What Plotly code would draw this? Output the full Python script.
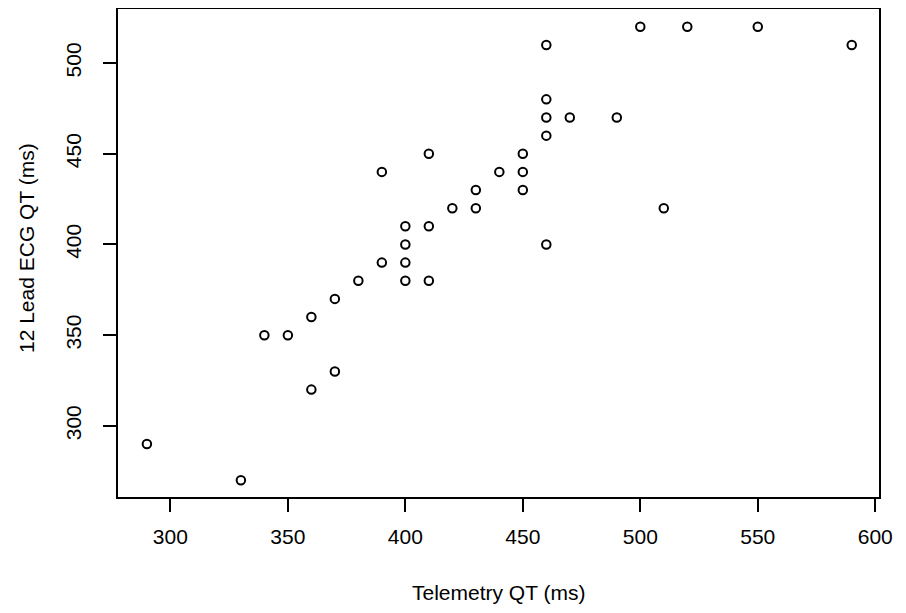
import plotly.graph_objects as go

telemetry_qt = [290, 330, 340, 350, 360, 360, 370, 370, 380, 390, 390, 400, 400, 400, 400,
                410, 410, 410, 420, 430, 430, 440, 450, 450, 450, 460, 460, 460, 460, 460,
                470, 490, 500, 510, 520, 550, 590]
ecg_qt = [290, 270, 350, 350, 360, 320, 370, 330, 380, 440, 390, 410, 400, 390, 380,
          450, 410, 380, 420, 430, 420, 440, 450, 440, 430, 510, 480, 470, 460, 400,
          470, 470, 520, 420, 520, 520, 510]
x_ticks = [300, 350, 400, 450, 500, 550, 600]
y_ticks = [300, 350, 400, 450, 500]
x_title = "Telemetry QT (ms)"
y_title = "12 Lead ECG QT (ms)"

font = dict(family="Liberation Sans, Arial, sans-serif", size=21, color="black")

fig = go.Figure(go.Scatter(
    x=telemetry_qt, y=ecg_qt, mode="markers",
    marker=dict(symbol="circle-open", size=8.5, color="black", line=dict(width=2, color="black")),
    hoverinfo="x+y",
))

axis_common = dict(
    showgrid=False, zeroline=False, showline=True, linecolor="black", linewidth=1.5,
    mirror=True, ticks="outside", ticklen=13, tickwidth=1.5, tickcolor="black",
    tickfont=font,
)
fig.update_layout(
    width=898, height=605,
    margin=dict(l=110, r=27, t=1, b=116, autoexpand=False),
    paper_bgcolor="white", plot_bgcolor="white",
    showlegend=False,
    xaxis=dict(range=[277.7, 601.6], tickvals=x_ticks, ticktext=[str(v) for v in x_ticks],
               ticklabelstandoff=7, **axis_common),
    yaxis=dict(range=[260.8, 529.8], tickvals=y_ticks, ticktext=[str(v) for v in y_ticks],
               tickangle=-90, ticklabelstandoff=14, **axis_common),
    annotations=[
        dict(text=x_title, xref="paper", yref="paper", x=0.5, y=0, xanchor="center",
             yanchor="middle", yshift=-95, showarrow=False, font=font),
        dict(text=y_title, xref="paper", yref="paper", x=0, y=0.5, xanchor="center",
             yanchor="middle", xshift=-92, yshift=5, textangle=-90, showarrow=False, font=font),
    ],
)

fig.write_html("out.html")
